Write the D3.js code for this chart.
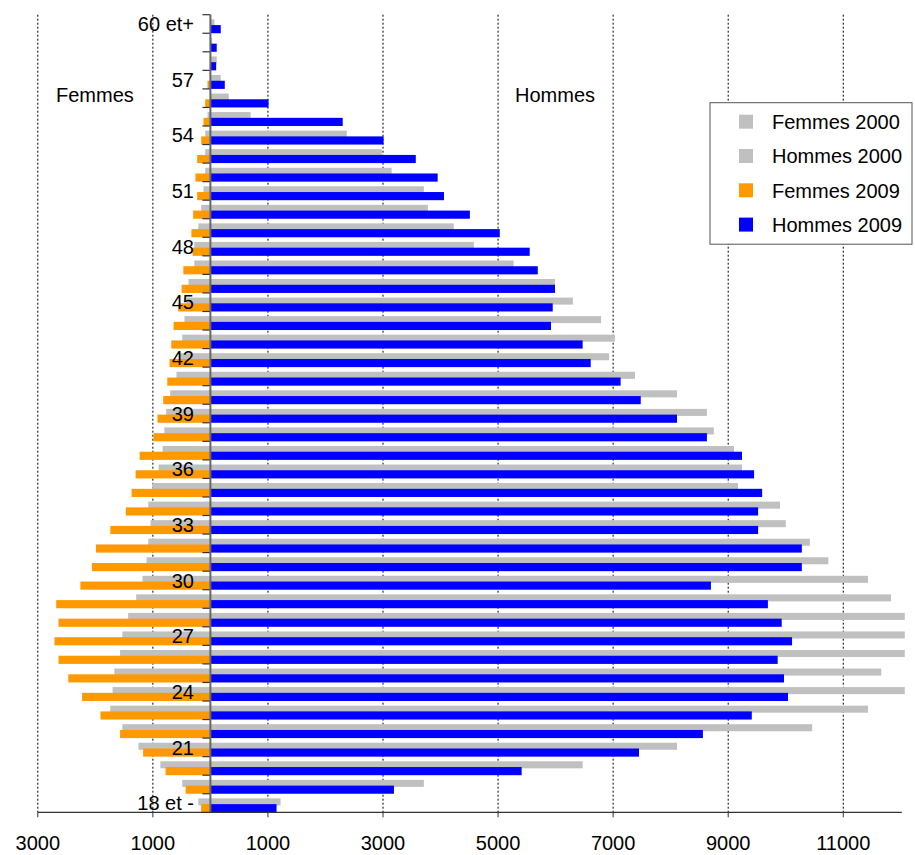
<!DOCTYPE html>
<html>
<head>
<meta charset="utf-8">
<script src="https://cdn.jsdelivr.net/npm/d3@7"></script>
<style>
  body { margin: 0; background: #fff; }
  text { font-family: "Liberation Sans", Arial, sans-serif; fill: #000; }
</style>
</head>
<body>
<div id="chart"></div>
<script>
// ages from bottom to top
const ages = ["18 et -", "19", "20", "21", "22", "23", "24", "25", "26", "27", "28",
  "29", "30", "31", "32", "33", "34", "35", "36", "37", "38", "39", "40", "41", "42",
  "43", "44", "45", "46", "47", "48", "49", "50", "51", "52", "53", "54", "55", "56",
  "57", "58", "59", "60 et+"];
const shownAges = ["18 et -", "21", "24", "27", "30", "33", "36", "39", "42", "45", "48", "51", "54", "57", "60 et+"];

const femmes2000 = [210, 490, 870, 1250, 1530, 1740, 1700, 1670, 1570, 1530, 1430, 1290, 1180,
  1110, 1080, 1040, 1080, 1010, 900, 830, 800, 770, 700, 590, 540, 490, 450, 420, 380, 280,
  280, 210, 160, 120, 90, 90, 90, 50, 0, 0, 0, 0, 0];
const hommes2000 = [1220, 3710, 6470, 8110, 10460, 11430, 12300, 11660, 12300, 12300, 12300,
  11830, 11430, 10740, 10420, 10000, 9900, 9170, 9240, 9100, 8750, 8630, 8110, 7380, 6930,
  7030, 6790, 6300, 5990, 5270, 4580, 4230, 3780, 3710, 3150, 2980, 2370, 700, 320, 180, 110, 30, 70];
const femmes2009 = [160, 430, 780, 1170, 1570, 1910, 2230, 2470, 2640, 2710, 2640, 2680, 2260,
  2060, 1990, 1740, 1470, 1370, 1300, 1230, 990, 920, 820, 750, 710, 680, 640, 560, 500, 470,
  310, 330, 300, 230, 260, 230, 160, 120, 90, 50, 0, 0, 0];
const hommes2009 = [1150, 3190, 5410, 7450, 8560, 9410, 10040, 9970, 9860, 10110, 9930, 9690,
  8700, 10280, 10280, 9520, 9520, 9590, 9450, 9240, 8630, 8110, 7480, 7130, 6610, 6470, 5920,
  5950, 5990, 5690, 5550, 5030, 4510, 4060, 3950, 3570, 3010, 2300, 1010, 250, 100, 110, 180];

const xTicks = [-3000, -1000, 1000, 3000, 5000, 7000, 9000, 11000];
const legendNames = ["Femmes 2000", "Hommes 2000", "Femmes 2009", "Hommes 2009"];
const legendColors = ["#c0c0c0", "#c0c0c0", "#ff9900", "#0000ff"];

const width = 915;
const height = 855;
const plotTop = 14.7;
const plotBottom = 812.3;

const x = d3.scaleLinear().domain([-3000, 12000]).range([37.8, 900.8]);
const y = d3.scaleBand().domain(ages.slice().reverse()).range([plotTop, plotBottom]).padding(0);
const bw = y.bandwidth();

const svg = d3.select('#chart')
  .append('svg')
  .attr('width', width)
  .attr('height', height);

svg.append('rect').attr('width', width).attr('height', height).attr('fill', '#fff');

svg.append('clipPath').attr('id', 'plot')
  .append('rect')
  .attr('x', 0).attr('y', 0)
  .attr('width', x(12000) + 4).attr('height', height);

// dashed grid lines
svg.append('g')
  .selectAll('line')
  .data(xTicks)
  .enter()
  .append('line')
  .attr('x1', d => x(d)).attr('x2', d => x(d))
  .attr('y1', plotTop).attr('y2', plotBottom)
  .attr('stroke', '#000')
  .attr('stroke-width', 1)
  .attr('stroke-dasharray', '2,2');

const bars = svg.append('g').attr('clip-path', 'url(#plot)');

function drawRow(values, color, left, offset, h) {
  bars.append('g')
    .selectAll('rect')
    .data(values)
    .enter()
    .append('rect')
    .attr('x', d => left ? x(-d) : x(0))
    .attr('width', d => Math.abs(x(d) - x(0)))
    .attr('y', (d, i) => y(ages[i]) + bw * offset)
    .attr('height', bw * h)
    .attr('fill', color);
}

drawRow(femmes2000, legendColors[0], true, 0.25, 0.38);
drawRow(hommes2000, legendColors[1], false, 0.25, 0.38);
drawRow(femmes2009, legendColors[2], true, 0.56, 0.44);
drawRow(hommes2009, legendColors[3], false, 0.56, 0.44);

// vertical axis at zero with a tick at every band edge
const bandEdges = ages.map(a => y(a));
svg.append('g')
  .selectAll('line')
  .data(bandEdges)
  .enter()
  .append('line')
  .attr('x1', x(0) - 8).attr('x2', x(0))
  .attr('y1', d => d).attr('y2', d => d)
  .attr('stroke', '#333')
  .attr('stroke-width', 1.2);

svg.append('line')
  .attr('x1', x(0)).attr('x2', x(0))
  .attr('y1', plotTop).attr('y2', plotBottom)
  .attr('stroke', '#666')
  .attr('stroke-width', 2);

// bottom axis
const xAxis = svg.append('g');
xAxis.append('line')
  .attr('x1', x(-3000)).attr('x2', x(12000) + 1)
  .attr('y1', plotBottom).attr('y2', plotBottom)
  .attr('stroke', '#333')
  .attr('stroke-width', 1.2);
xAxis.selectAll('.tk')
  .data(xTicks)
  .enter()
  .append('line')
  .attr('x1', d => x(d)).attr('x2', d => x(d))
  .attr('y1', plotBottom).attr('y2', plotBottom + 5)
  .attr('stroke', '#333');
xAxis.selectAll('text')
  .data(xTicks)
  .enter()
  .append('text')
  .attr('x', d => x(d))
  .attr('y', 850)
  .attr('text-anchor', 'middle')
  .attr('font-size', 20)
  .text(d => Math.abs(d));

// age labels (drawn over the bars)
svg.append('g')
  .selectAll('text')
  .data(shownAges)
  .enter()
  .append('text')
  .attr('x', 194)
  .attr('y', d => y(d) + bw / 2 + 7.2)
  .attr('text-anchor', 'end')
  .attr('font-size', 20)
  .text(d => d);

svg.append('text').attr('x', 56).attr('y', 101.5).attr('font-size', 20).text('Femmes');
svg.append('text').attr('x', 515).attr('y', 101.5).attr('font-size', 20).text('Hommes');

// legend
const legend = svg.append('g');
legend.append('rect')
  .attr('x', 710).attr('y', 102.7)
  .attr('width', 202).attr('height', 141.5)
  .attr('fill', '#fff')
  .attr('stroke', '#555')
  .attr('stroke-width', 1);
const item = legend.selectAll('.item')
  .data(legendNames)
  .enter()
  .append('g')
  .attr('transform', (d, i) => `translate(0,${121.7 + i * 34.3})`);
item.append('rect')
  .attr('x', 739).attr('y', -7)
  .attr('width', 14).attr('height', 14)
  .attr('fill', (d, i) => legendColors[i]);
item.append('text')
  .attr('x', 772).attr('y', 7.2)
  .attr('font-size', 20)
  .text(d => d);
</script>
</body>
</html>
